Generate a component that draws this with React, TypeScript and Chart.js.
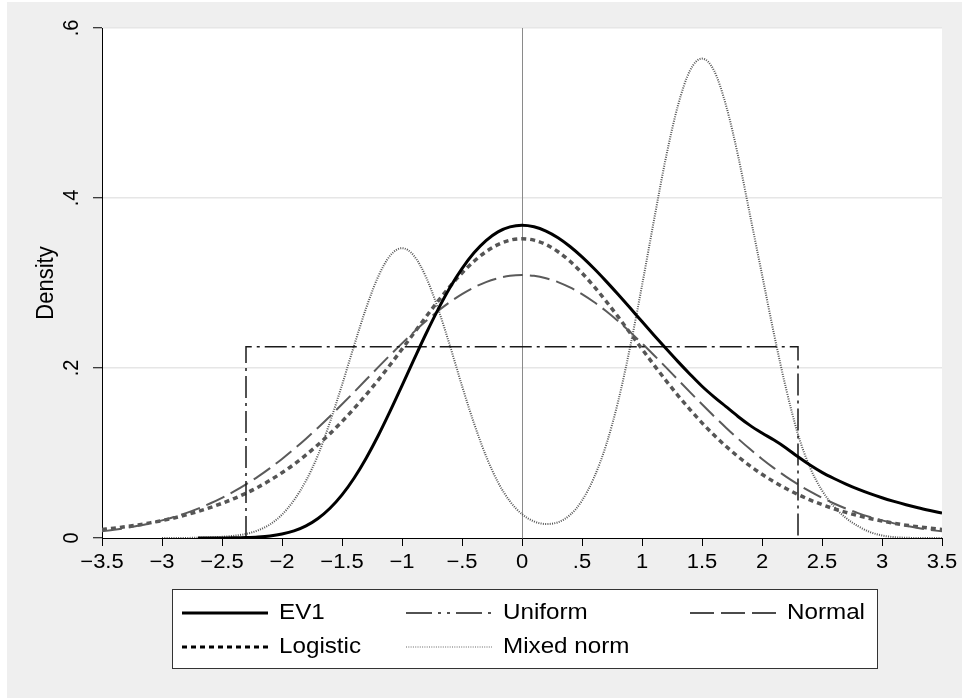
import React, { useEffect, useRef } from "react";
import { Chart, registerables } from "chart.js";

Chart.register(...registerables);

const xGrid = [
  -3.5, -3.4, -3.3, -3.2, -3.1, -3.0, -2.9, -2.8, -2.7, -2.6, -2.5, -2.4, -2.3, -2.2, -2.1, -2.0,
  -1.9, -1.8, -1.7, -1.6, -1.5, -1.4, -1.3, -1.2, -1.1, -1.0, -0.9, -0.8, -0.7, -0.6, -0.5, -0.4,
  -0.3, -0.2, -0.1, 0.0, 0.1, 0.2, 0.3, 0.4, 0.5, 0.6, 0.7, 0.8, 0.9, 1.0, 1.1, 1.2, 1.3, 1.4, 1.5,
  1.6, 1.7, 1.8, 1.9, 2.0, 2.1, 2.2, 2.3, 2.4, 2.5, 2.6, 2.7, 2.8, 2.9, 3.0, 3.1, 3.2, 3.3, 3.4, 3.5,
];

const ev1 = [
  null, null, null, null, null, null, null, null,
  0.0, 0.0, 0.0001, 0.0002, 0.0005, 0.0011, 0.0023, 0.0046, 0.0083, 0.0143, 0.023, 0.035, 0.0507,
  0.0703, 0.0936, 0.12, 0.149, 0.1794, 0.2101, 0.2403, 0.2687, 0.2946, 0.3169, 0.3355, 0.3499,
  0.3602, 0.366,
  0.3679, 0.3661, 0.3611, 0.3532, 0.3429, 0.3307, 0.317, 0.3022, 0.2867, 0.2708, 0.2546, 0.2386,
  0.2229, 0.2075, 0.1927, 0.1785, 0.166, 0.1545, 0.143, 0.1325, 0.1235, 0.1152, 0.106, 0.0955, 0.0858,
  0.0772, 0.07, 0.0635, 0.0575, 0.0522, 0.0474, 0.0431, 0.0391, 0.0355, 0.0323, 0.0293,
];

const logistic = [
  0.01, 0.0116, 0.0134, 0.0154, 0.0178, 0.0205, 0.0236, 0.0272, 0.0312, 0.0357, 0.0408, 0.0464,
  0.0527, 0.0598, 0.0678, 0.0768, 0.0867, 0.0977, 0.1097, 0.1228, 0.137, 0.1522, 0.1684, 0.1855,
  0.2035, 0.2222, 0.2412, 0.2602, 0.2786, 0.296, 0.3118, 0.3256, 0.3368, 0.3452, 0.3504, 0.3521,
  0.3504, 0.3452, 0.3368, 0.3256, 0.3118, 0.296, 0.2787, 0.2604, 0.2414, 0.2224, 0.2035, 0.1852,
  0.1676, 0.1511, 0.1355, 0.1211, 0.1079, 0.0958, 0.0848, 0.075, 0.0661, 0.0582, 0.0511, 0.0448,
  0.0393, 0.0344, 0.0301, 0.0263, 0.0229, 0.02, 0.0174, 0.0151, 0.0132, 0.0115, 0.01,
];

const normal = [
  0.0078, 0.0096, 0.0117, 0.0143, 0.0172, 0.0207, 0.0247, 0.0293, 0.0346, 0.0406, 0.0473, 0.0548,
  0.0631, 0.0722, 0.0822, 0.093, 0.1046, 0.1169, 0.1298, 0.1433, 0.1573, 0.1716, 0.1861, 0.2007,
  0.215, 0.229, 0.2425, 0.2552, 0.267, 0.2776, 0.2869, 0.2948, 0.3011, 0.3056, 0.3084, 0.3093,
  0.3084, 0.3056, 0.3011, 0.2948, 0.2869, 0.2776, 0.267, 0.2552, 0.2425, 0.229, 0.215, 0.2007,
  0.1861, 0.1716, 0.1573, 0.1433, 0.1298, 0.1169, 0.1046, 0.093, 0.0822, 0.0722, 0.0631, 0.0548,
  0.0473, 0.0406, 0.0346, 0.0293, 0.0247, 0.0207, 0.0172, 0.0143, 0.0117, 0.0096, 0.0078,
];

const mixedNorm = [
  null, null, null, null, null,
  0.0, 0.0, 0.0001, 0.0003, 0.0007, 0.0014, 0.0026, 0.0048, 0.009, 0.016, 0.0275, 0.0445, 0.0675,
  0.0975, 0.1365, 0.18, 0.226, 0.27, 0.307, 0.332, 0.341, 0.332, 0.307, 0.27, 0.226, 0.179, 0.135,
  0.0965, 0.0655, 0.043,
  0.028, 0.0195, 0.0165, 0.0185, 0.027, 0.044, 0.071, 0.109, 0.16, 0.224, 0.297, 0.374, 0.448,
  0.509, 0.55, 0.564, 0.55, 0.509, 0.45, 0.38, 0.31, 0.24, 0.176, 0.122, 0.083, 0.056, 0.037,
  0.0235, 0.014, 0.007, 0.003, 0.001, 0.0003, 0.0, 0.0, 0.0,
];

const uniformX = [-2.3, -2.3, 2.3, 2.3];
const uniformY = [0, 0.225, 0.225, 0];

const seriesNames = ["EV1", "Uniform", "Normal", "Logistic", "Mixed norm"];
const xTicks = [-3.5, -3, -2.5, -2, -1.5, -1, -0.5, 0, 0.5, 1, 1.5, 2, 2.5, 3, 3.5];
const xTickLabels = ["−3.5", "−3", "−2.5", "−2", "−1.5", "−1", "−.5", "0", ".5", "1", "1.5", "2", "2.5", "3", "3.5"];
const yTicks = [0, 0.2, 0.4, 0.6];
const yTickLabels = ["0", ".2", ".4", ".6"];
const yTitle = "Density";
const refLineX = [0];

const FONT = "'Liberation Sans', Arial, sans-serif";
const FS = 20;

function drawText(ctx: CanvasRenderingContext2D, s: string, x: number, y: number, size: number, rot: number, align: CanvasTextAlign, sx = 1.1) {
  ctx.save();
  ctx.translate(x, y);
  ctx.scale(sx, 1);
  ctx.rotate(rot);
  ctx.font = `${size}px ${FONT}`;
  ctx.fillStyle = "#000";
  ctx.textAlign = align;
  ctx.textBaseline = "middle";
  ctx.fillText(s, 0, 0);
  ctx.restore();
}

const decor = {
  id: "decor",
  beforeDraw(chart: any) {
    const { ctx, chartArea: a } = chart;
    ctx.save();
    ctx.fillStyle = "#fff";
    ctx.fillRect(0, 0, chart.width, chart.height);
    ctx.fillStyle = "#EFEFEF";
    ctx.fillRect(7, 2, chart.width - 7, chart.height - 4);
    ctx.fillStyle = "#fff";
    ctx.fillRect(a.left, a.top, a.right - a.left, a.bottom - a.top);
    ctx.restore();
  },
  beforeDatasetsDraw(chart: any) {
    const { ctx, chartArea: a } = chart;
    const xs = chart.scales.x;
    ctx.save();
    ctx.strokeStyle = "#8a8a8a";
    ctx.lineWidth = 1;
    refLineX.forEach((v) => {
      const px = Math.round(xs.getPixelForValue(v)) + 0.5;
      ctx.beginPath();
      ctx.moveTo(px, a.top);
      ctx.lineTo(px, a.bottom);
      ctx.stroke();
    });
    ctx.restore();
  },
  afterDraw(chart: any) {
    const { ctx } = chart;
    const xs = chart.scales.x;
    const ys = chart.scales.y;
    xTicks.forEach((v, i) => {
      drawText(ctx, xTickLabels[i], xs.getPixelForValue(v), 562, FS, 0, "center");
    });
    yTicks.forEach((v, i) => {
      drawText(ctx, yTickLabels[i], 72, ys.getPixelForValue(v), FS, -Math.PI / 2, "center");
    });
    drawText(ctx, yTitle, 46, (chart.chartArea.top + chart.chartArea.bottom) / 2, 22, -Math.PI / 2, "center");

    // legend
    const L = 172, T = 589, R = 877, B = 668;
    ctx.save();
    ctx.fillStyle = "#fff";
    ctx.fillRect(L, T, R - L, B - T);
    ctx.strokeStyle = "#333";
    ctx.lineWidth = 1;
    ctx.strokeRect(L + 0.5, T + 0.5, R - L, B - T);
    ctx.restore();
    const colX = [182, 406, 690];
    const rowY = [613, 647];
    const sampleLen = 86;
    chart.data.datasets.forEach((ds: any, i: number) => {
      const row = i < 3 ? 0 : 1;
      const col = i < 3 ? i : i - 3;
      const x0 = colX[col];
      const y0 = rowY[row];
      ctx.save();
      ctx.strokeStyle = ds.legendColor || ds.borderColor;
      ctx.lineWidth = ds.legendWidth || ds.borderWidth;
      ctx.setLineDash(ds.legendDash || ds.borderDash || []);
      ctx.beginPath();
      ctx.moveTo(x0, y0);
      ctx.lineTo(x0 + sampleLen, y0);
      ctx.stroke();
      ctx.restore();
      drawText(ctx, ds.label, x0 + sampleLen + 11, y0, 22, 0, "left", 1.1);
    });
  },
};

export default function App() {
  const ref = useRef<HTMLCanvasElement>(null);
  useEffect(() => {
    const canvas = ref.current;
    if (!canvas) return;
    const pts = (ys: (number | null)[]) => xGrid.map((x, i) => ({ x, y: ys[i] }));
    const chart = new Chart(canvas, {
      type: "line",
      data: {
        datasets: [
          {
            label: seriesNames[0],
            data: pts(ev1),
            borderColor: "#000",
            borderWidth: 3,
            borderDash: [],
            pointRadius: 0,
            cubicInterpolationMode: "monotone",
          },
          {
            label: seriesNames[1],
            data: uniformX.map((x, i) => ({ x, y: uniformY[i] })),
            borderColor: "#1a1a1a",
            borderWidth: 1.5,
            borderDash: [22, 5, 3, 5],
            legendDash: [26, 6, 3, 6, 3, 6],
            pointRadius: 0,
            tension: 0,
          },
          {
            label: seriesNames[2],
            data: pts(normal),
            borderColor: "#5a5a5a",
            borderWidth: 2,
            borderDash: [20, 7],
            legendColor: "#111",
            legendWidth: 1.5,
            legendDash: [24, 7],
            pointRadius: 0,
            cubicInterpolationMode: "monotone",
          },
          {
            label: seriesNames[3],
            data: pts(logistic),
            borderColor: "#555",
            borderWidth: 3.5,
            borderDash: [5, 4],
            legendColor: "#000",
            legendWidth: 3,
            legendDash: [5, 4],
            pointRadius: 0,
            cubicInterpolationMode: "monotone",
          },
          {
            label: seriesNames[4],
            data: pts(mixedNorm),
            borderColor: "#555",
            borderWidth: 2,
            borderDash: [1, 1.3],
            legendColor: "#999",
            legendWidth: 1.5,
            pointRadius: 0,
            cubicInterpolationMode: "monotone",
          },
        ] as any,
      },
      options: {
        responsive: false,
        devicePixelRatio: 1,
        animation: false,
        parsing: false,
        layout: { padding: { top: 28, right: 20, left: 0, bottom: 0 } },
        plugins: { legend: { display: false }, tooltip: { enabled: false } },
        scales: {
          x: {
            type: "linear",
            min: -3.5,
            max: 3.5,
            ticks: { display: false, stepSize: 0.5 },
            grid: { drawOnChartArea: false, drawTicks: true, tickLength: 8, tickColor: "#000", tickWidth: 1 },
            border: { display: true, color: "#000", width: 1 },
            afterFit: (s: any) => {
              s.height = 162;
            },
          },
          y: {
            type: "linear",
            min: 0,
            max: 0.6,
            ticks: { display: false, stepSize: 0.2 },
            grid: {
              color: (c: any) => (c.tick && c.tick.value === 0 ? "rgba(0,0,0,0)" : "#E6E6E6"),
              lineWidth: 1.5,
              drawTicks: true,
              tickLength: 9,
              tickColor: "#000",
              tickWidth: 1,
            },
            border: { display: true, color: "#000", width: 1 },
            afterFit: (s: any) => {
              s.width = 102;
            },
          },
        },
      } as any,
      plugins: [decor],
    });
    return () => chart.destroy();
  }, []);
  return (
    <div style={{ position: "fixed", left: 0, top: 0, width: 962, height: 700 }}>
      <canvas ref={ref} width={962} height={700} style={{ display: "block" }} />
    </div>
  );
}
